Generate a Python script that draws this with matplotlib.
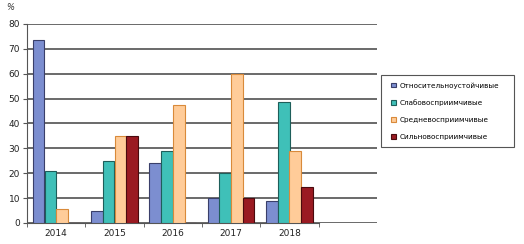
import matplotlib
matplotlib.use("Agg")
import matplotlib.pyplot as plt
import numpy as np
from matplotlib.patches import Rectangle

years = ["2014", "2015", "2016", "2017", "2018"]
series_names = ["Относительноустойчивые", "Слабовосприимчивые", "Средневосприимчивые", "Сильновосприимчивые"]
s1 = [73.5, 5, 24, 10, 9]
s2 = [21, 25, 29, 20, 48.5]
s3 = [5.5, 35, 47.5, 60, 29]
s4 = [0, 35, 0, 10, 14.5]
yticks = [0, 10, 20, 30, 40, 50, 60, 70, 80]

colors = ["#7C8ED0", "#3FC0B8", "#FFCC99", "#9A1A22"]
edges = ["#3A3F6A", "#1E5E5A", "#D98A3A", "#4A0A0E"]

fig = plt.figure(figsize=(5.24, 2.44), dpi=100)
ax = fig.add_axes([27/524, 21/244, 350/524, 199/244])

x = np.arange(len(years))
w = 0.2
offs = [-0.3, -0.1, 0.1, 0.3]
handles = []
for vals, c, e, o, n in zip([s1, s2, s3, s4], colors, edges, offs, series_names):
    h = ax.bar(x + o, vals, width=w, color=c, edgecolor=e, linewidth=0.8, label=n, zorder=3)
    handles.append(h)

ax.set_xlim(-0.5, 5.5)
ax.set_ylim(0, 80)
ax.set_yticks(yticks)
ax.set_yticklabels([str(v) for v in yticks], fontsize=6.5, color="#222222")
ax.yaxis.grid(True, color="#505050", linewidth=1.2, zorder=0)
ax.set_axisbelow(True)
ax.set_xticks(x)
ax.set_xticklabels(years, fontsize=6.5, color="#222222")
ax.tick_params(axis="x", length=0, pad=4)
ax.set_xticks(np.arange(-0.5, 5.0, 1.0), minor=True)
ax.tick_params(axis="x", which="minor", length=3, color="#555555")
ax.tick_params(axis="y", length=3, color="#555555", pad=2)
for s in ["top", "right"]:
    ax.spines[s].set_visible(False)
ax.spines["bottom"].set_bounds(-0.5, 4.5)
ax.spines["bottom"].set_color("#555555")
ax.spines["left"].set_color("#555555")

fig.text(6/524, 1 - 8/244, "%", fontsize=6, style="italic", ha="left", va="center", color="#333333")

# legend frame
fig.patches.append(Rectangle((381/524, 1 - 147/244), 133/524, 72/244,
                             transform=fig.transFigure, fill=False,
                             edgecolor="#555555", linewidth=0.8))
leg = fig.legend(handles=handles, labels=series_names, loc="upper left",
                 bbox_to_anchor=(389/524, 1 - 80/244), fontsize=5.2,
                 frameon=False,
                 handlelength=0.6, handleheight=0.6, handletextpad=0.6,
                 labelspacing=1.5, borderpad=0.3, borderaxespad=0)

fig.savefig("out.png", dpi=100)
